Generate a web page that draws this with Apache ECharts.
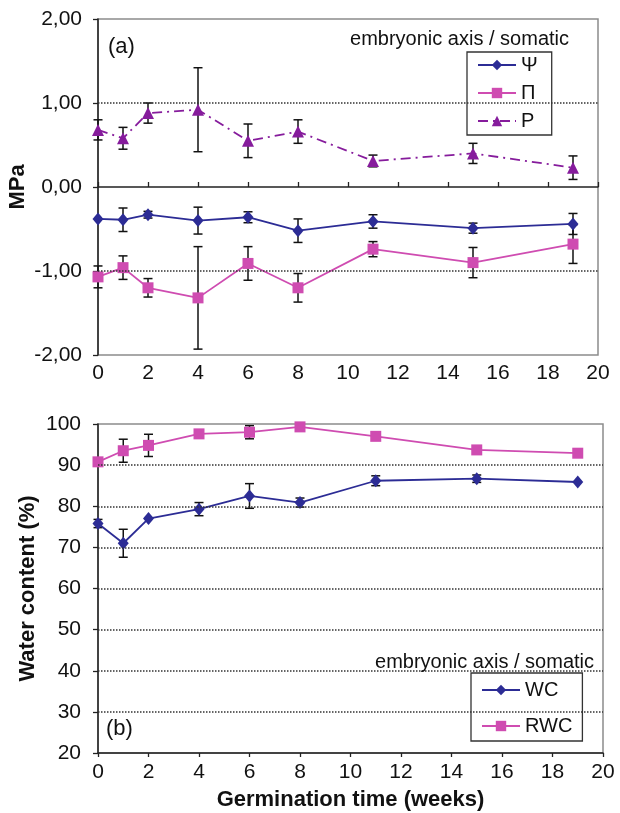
<!DOCTYPE html>
<html style="height: 100%">
    <head>
        <meta charset="utf-8">
        <title>Water relations during germination</title>
        <script type="text/javascript" src="https://cdn.jsdelivr.net/npm/echarts@6/dist/echarts.min.js"></script>
    </head>
    <body style="height: 100%; margin: 0; background: #fff">
        <div id="container" style="width: 620px; height: 813px"></div>
        <script type="text/javascript">

        // germination time (weeks)
        var weeks = [0, 1, 2, 4, 6, 8, 11, 15, 19];

        // panel (a) MPa
        var psi    = [-0.38, -0.39, -0.33, -0.40, -0.36, -0.52, -0.41, -0.49, -0.44];
        var psiErr = [0, 0.14, 0.04, 0.16, 0.065, 0.14, 0.08, 0.06, 0.125];
        var pi     = [-1.07, -0.96, -1.20, -1.32, -0.91, -1.20, -0.74, -0.90, -0.68];
        var piErr  = [0.13, 0.14, 0.11, 0.61, 0.20, 0.17, 0.09, 0.18, 0.23];
        var turg   = [0.68, 0.58, 0.88, 0.92, 0.55, 0.66, 0.31, 0.40, 0.23];
        var turgErr = [0.12, 0.13, 0.12, 0.50, 0.20, 0.14, 0.07, 0.12, 0.14];

        // panel (b) water content %
        var wc     = [75.8, 71.0, 77.0, 79.3, 82.5, 80.9, 86.2, 86.7, 85.9];
        var wcErr  = [1.0, 3.4, 0, 1.6, 3.0, 1.1, 1.2, 0.9, 0];
        var rwc    = [90.8, 93.5, 94.8, 97.6, 98.0, 99.3, 97.0, 93.7, 92.9];
        var rwcErr = [0, 2.8, 2.7, 0, 1.6, 0, 0, 0, 0];

        var gridA = [1, -1];
        var gridB = [30, 40, 50, 60, 70, 80, 90];

        var blue = '#2c2c95';
        var magenta = '#cf4cb1';
        var purple = '#861c9c';

        function pairs(vals) {
            return weeks.map(function (w, i) { return [w, vals[i]]; });
        }

        function errData(vals, errs) {
            return weeks.map(function (w, i) { return [w, vals[i] - errs[i], vals[i] + errs[i], errs[i]]; });
        }

        function renderErr(params, api) {
            if (!api.value(3)) return null;
            var lo = api.coord([api.value(0), api.value(1)]);
            var hi = api.coord([api.value(0), api.value(2)]);
            var hw = 4.5;
            var st = { stroke: '#111', lineWidth: 1.5 };
            return {
                type: 'group',
                children: [
                    { type: 'line', shape: { x1: lo[0], y1: lo[1], x2: hi[0], y2: hi[1] }, style: st },
                    { type: 'line', shape: { x1: hi[0] - hw, y1: hi[1], x2: hi[0] + hw, y2: hi[1] }, style: st },
                    { type: 'line', shape: { x1: lo[0] - hw, y1: lo[1], x2: lo[0] + hw, y2: lo[1] }, style: st }
                ]
            };
        }

        function errSeries(vals, errs, xi, yi) {
            return {
                type: 'custom', xAxisIndex: xi, yAxisIndex: yi, z: 1, silent: true,
                renderItem: renderErr, encode: { x: 0, y: [1, 2] },
                data: errData(vals, errs)
            };
        }

        function gridLines(vals) {
            return {
                silent: true, symbol: 'none', label: { show: false },
                lineStyle: { type: 'dotted', color: '#333', width: 1.5 },
                data: vals.map(function (v) { return { yAxis: v }; })
            };
        }

        var font = 'Liberation Sans, Arial, sans-serif';
        var tickLabel = { fontSize: 21, color: '#111', fontFamily: font };

        var dom = document.getElementById("container");
        var myChart = echarts.init(dom);

        var option = {
            animation: false,
            backgroundColor: '#fff',
            textStyle: { fontFamily: font },
            title: [
                { text: '(a)', left: 108, top: 36, padding: 0, textStyle: { fontSize: 22, fontWeight: 'normal', color: '#111' } },
                { text: 'embryonic axis / somatic', right: 51, top: 29, padding: 0, textStyle: { fontSize: 20, fontWeight: 'normal', color: '#111' } },
                { text: '(b)', left: 106, top: 718, padding: 0, textStyle: { fontSize: 22, fontWeight: 'normal', color: '#111' } },
                { text: 'embryonic axis / somatic', right: 26, top: 652, padding: 0, textStyle: { fontSize: 20, fontWeight: 'normal', color: '#111' } }
            ],
            legend: [
                {
                    data: ['Ψ', 'Π', 'P'], orient: 'vertical', left: 467, top: 52,
                    padding: [3, 14, 4, 10], itemGap: 8, itemWidth: 38, itemHeight: 13,
                    borderColor: '#333', borderWidth: 1.3,
                    textStyle: { fontSize: 20, color: '#111' }
                },
                {
                    data: ['WC', 'RWC'], orient: 'vertical', left: 471, top: 673,
                    padding: [7, 10, 5, 10], itemGap: 16, itemWidth: 38, itemHeight: 13,
                    borderColor: '#333', borderWidth: 1.3,
                    textStyle: { fontSize: 20, color: '#111' }
                }
            ],
            grid: [
                { left: 98, right: 22, top: 19, height: 336, show: true, borderColor: '#8c8c8c', borderWidth: 1.5, outerBoundsMode: 'none' },
                { left: 98, right: 17, top: 424, height: 329, show: true, borderColor: '#8c8c8c', borderWidth: 1.5, outerBoundsMode: 'none' }
            ],
            xAxis: [
                {
                    gridIndex: 0, type: 'value', min: 0, max: 20, interval: 2, position: 'bottom',
                    axisLine: { show: false, onZero: false }, axisTick: { show: false },
                    splitLine: { show: false }, axisLabel: Object.assign({ margin: 8 }, tickLabel)
                },
                {
                    gridIndex: 0, type: 'value', min: 0, max: 20, interval: 2, position: 'top',
                    axisLine: { show: true, onZero: true, lineStyle: { color: '#222', width: 1.5 } },
                    axisTick: { show: true, length: 5, lineStyle: { color: '#222', width: 1.3 } },
                    axisLabel: { show: false }, splitLine: { show: false }
                },
                {
                    gridIndex: 1, type: 'value', min: 0, max: 20, interval: 2, position: 'bottom',
                    axisLine: { show: true, onZero: false, lineStyle: { color: '#222', width: 1.5 } },
                    axisTick: { show: true, length: 4, lineStyle: { color: '#222', width: 1.3 } },
                    splitLine: { show: false }, axisLabel: Object.assign({ margin: 9 }, tickLabel),
                    name: 'Germination time (weeks)', nameLocation: 'middle', nameGap: 36,
                    nameTextStyle: { fontSize: 22, fontWeight: 'bold', color: '#111' }
                }
            ],
            yAxis: [
                {
                    gridIndex: 0, type: 'value', min: -2, max: 2, interval: 1,
                    axisLine: { show: true, onZero: false, lineStyle: { color: '#222', width: 1.5 } },
                    axisTick: { show: true, length: 5, lineStyle: { color: '#222', width: 1.3 } },
                    splitLine: { show: false },
                    axisLabel: Object.assign({
                        margin: 16,
                        formatter: function (v) { return v.toFixed(2).replace('.', ','); }
                    }, tickLabel),
                    name: 'MPa', nameLocation: 'middle', nameGap: 69, nameMoveOverlap: false,
                    nameTextStyle: { fontSize: 22, fontWeight: 'bold', color: '#111' }
                },
                {
                    gridIndex: 1, type: 'value', min: 20, max: 100, interval: 10,
                    axisLine: { show: true, onZero: false, lineStyle: { color: '#222', width: 1.5 } },
                    axisTick: { show: true, length: 5, lineStyle: { color: '#222', width: 1.3 } },
                    splitLine: { show: false },
                    axisLabel: Object.assign({ margin: 17 }, tickLabel),
                    name: 'Water content (%)', nameLocation: 'middle', nameGap: 59, nameMoveOverlap: false,
                    nameTextStyle: { fontSize: 22, fontWeight: 'bold', color: '#111' }
                }
            ],
            series: [
                errSeries(turg, turgErr, 0, 0),
                errSeries(psi, psiErr, 0, 0),
                errSeries(pi, piErr, 0, 0),
                errSeries(wc, wcErr, 2, 1),
                errSeries(rwc, rwcErr, 2, 1),
                {
                    name: 'Ψ', type: 'line', xAxisIndex: 0, yAxisIndex: 0, data: pairs(psi),
                    symbol: 'diamond', symbolSize: [11, 13], color: blue,
                    lineStyle: { color: blue, width: 1.8 }, markLine: gridLines(gridA)
                },
                {
                    name: 'Π', type: 'line', xAxisIndex: 0, yAxisIndex: 0, data: pairs(pi),
                    symbol: 'rect', symbolSize: 11, color: magenta,
                    lineStyle: { color: magenta, width: 1.8 }
                },
                {
                    name: 'P', type: 'line', xAxisIndex: 0, yAxisIndex: 0, data: pairs(turg),
                    symbol: 'triangle', symbolSize: 12, color: purple,
                    lineStyle: { color: purple, width: 1.8, type: [10, 5, 2, 5] }
                },
                {
                    name: 'WC', type: 'line', xAxisIndex: 2, yAxisIndex: 1, data: pairs(wc),
                    symbol: 'diamond', symbolSize: [11, 13], color: blue,
                    lineStyle: { color: blue, width: 1.8 }, markLine: gridLines(gridB)
                },
                {
                    name: 'RWC', type: 'line', xAxisIndex: 2, yAxisIndex: 1, data: pairs(rwc),
                    symbol: 'rect', symbolSize: 11, color: magenta,
                    lineStyle: { color: magenta, width: 1.8 }
                }
            ]
        };

        myChart.setOption(option);

        </script>
    </body>
</html>
